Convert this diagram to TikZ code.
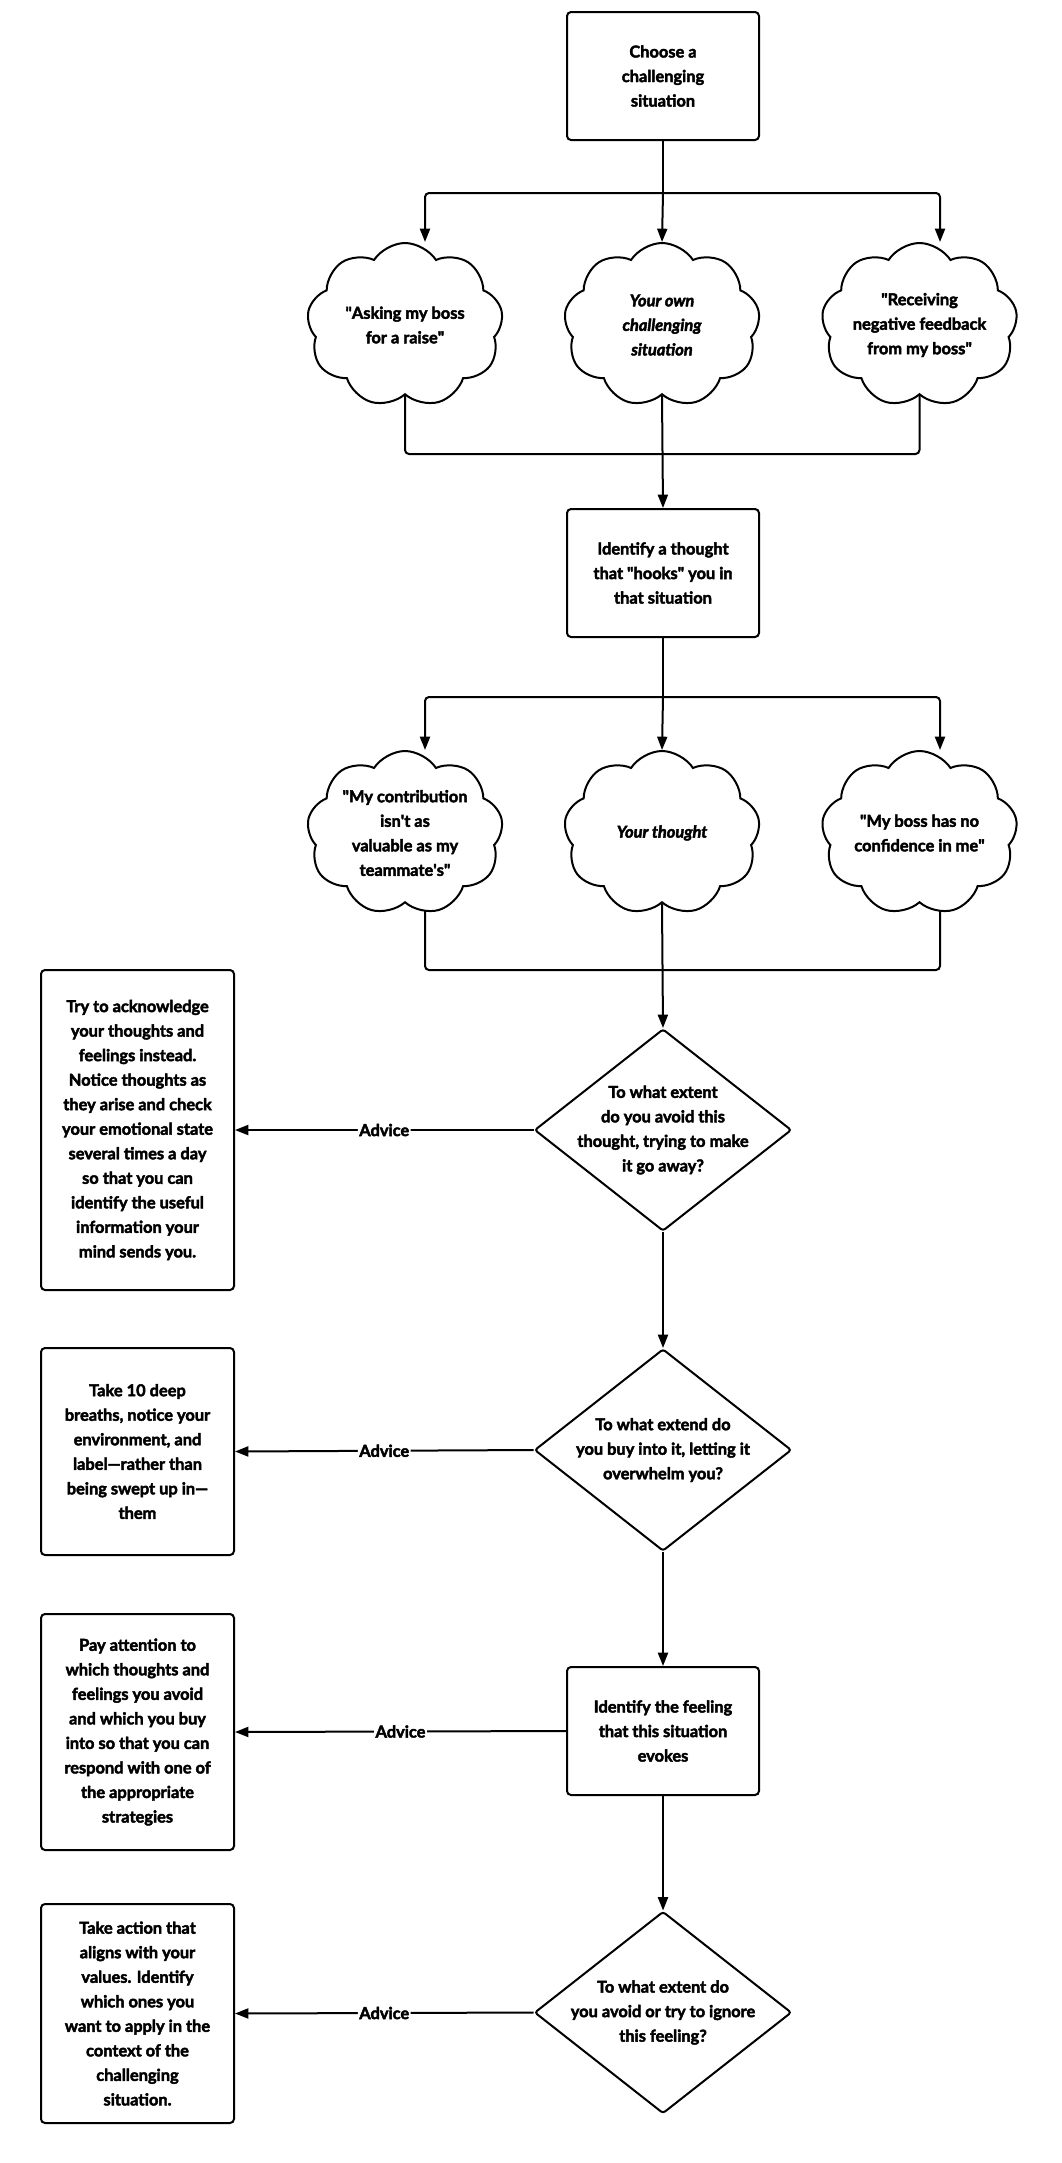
\documentclass[tikz,border=0pt]{standalone}
\usepackage{fontspec}
\setmainfont{Lato}[BoldFeatures={FakeBold=2.6},BoldItalicFeatures={FakeBold=2.6}]
\usetikzlibrary{shapes.geometric,shapes.symbols,arrows.meta}
\pgfdeclarelayer{back}
\pgfdeclarelayer{bg}
\pgfsetlayers{back,bg,main}
\newlength\pxu \setlength\pxu{0.75pt}
\newcommand\sq{\textquotesingle}
\newcommand\qq{\textquotedbl}
\tikzset{
  txt/.style={font=\bfseries\fontsize{12.3}{18.4}\selectfont, align=center, text=black},
  box/.style={txt, draw, fill=white, line width=1.5pt, rounded corners=3pt, minimum width=192\pxu, minimum height=128\pxu, inner sep=0pt},
  advice/.style={box, minimum width=193\pxu},
  puff/.style={draw, fill=white, line width=1.5pt, cloud, cloud puffs=9, cloud puff arc=115, cloud ignores aspect, minimum width=196\pxu, minimum height=164\pxu, inner sep=0pt},
  dia/.style={draw, fill=white, line width=1.5pt, diamond, minimum width=257\pxu, minimum height=202\pxu, inner sep=0pt, rounded corners=2pt},
  arr/.style={line width=1.5pt, rounded corners=3pt, -{Triangle[length=10pt,width=7.5pt]}},
  link/.style={line width=1.5pt, rounded corners=3pt},
  lab/.style={fill=white, inner sep=1pt, font=\bfseries\fontsize{12.3}{15}\selectfont}
}
\begin{document}
\begin{tikzpicture}[x=0.75pt,y=-0.75pt]
\begin{pgfonlayer}{back}
\useasboundingbox[fill=white] (0,0) rectangle (1062,2163);
\end{pgfonlayer}

% top
\node[box] (top) at (663,76) {Choose a\\challenging\\situation};
\node[puff, label={[txt]center:{\qq Asking my boss\\for a raise\qq}}] (c1) at (405,325) {};
\node[puff, label={[txt]center:{\itshape Your own\\\itshape challenging\\\itshape situation}}] (c2) at (662,325) {};
\node[puff, label={[txt]center:{\qq Receiving\\negative feedback\\from my boss\qq}}] (c3) at (919.5,325) {};
\node[box] (b2) at (663,573) {Identify a thought\\that \qq hooks\qq{} you in\\that situation};

\node[puff, label={[txt]center:{\qq My contribution\\isn\sq t as\\valuable as my\\teammate\sq s\qq}}] (c4) at (405,833) {};
\node[puff, label={[txt]center:{\itshape Your thought}}] (c5) at (662,833) {};
\node[puff, label={[txt]center:{\qq My boss has no\\confidence in me\qq}}] (c6) at (919.5,833) {};

\node[dia, label={[txt]center:{To what extent\\do you avoid this\\thought, trying to make\\it go away?}}] (d1) at (663,1130) {};
\node[dia, label={[txt]center:{To what extend do\\you buy into it, letting it\\overwhelm you?}}] (d2) at (663,1450) {};
\node[box] (b3) at (663,1731) {Identify the feeling\\that this situation\\evokes};
\node[dia, label={[txt]center:{To what extent do\\you avoid or try to ignore\\this feeling?}}] (d3) at (663,2012.5) {};

\node[advice, minimum height=320\pxu] (a1) at (137.5,1130) {Try to acknowledge\\your thoughts and\\feelings instead.\\Notice thoughts as\\they arise and check\\your emotional state\\several times a day\\so that you can\\identify the useful\\information your\\mind sends you.};
\node[advice, minimum height=207\pxu] (a2) at (137.5,1451.5) {Take 10 deep\\breaths, notice your\\environment, and\\label---rather than\\being swept up in---\\them};
\node[advice, minimum height=236\pxu] (a3) at (137.5,1732) {Pay attention to\\which thoughts and\\feelings you avoid\\and which you buy\\into so that you can\\respond with one of\\the appropriate\\strategies};
\node[advice, minimum height=219\pxu] (a4) at (137.5,2013.5) {Take action that\\aligns with your\\values. Identify\\which ones you\\want to apply in the\\context of the\\challenging\\situation.};

\begin{pgfonlayer}{bg}
% connectors row 1
\coordinate (s1) at (663,193);
\draw[link] (top.south) -- (s1);
\draw[arr] (s1) -| ([xshift=20\pxu]c1.north);
\draw[arr] (s1) -- (c2.north);
\draw[arr] (s1) -| ([xshift=20.5\pxu]c3.north);
\coordinate (m1) at (663,454);
\draw[link] (c1.center) |- (m1);
\draw[link] (c3.center) |- (m1);
\draw[arr] (c2.south) -- (b2.north);

% row 2
\coordinate (s2) at (663,697);
\draw[link] (b2.south) -- (s2);
\draw[arr] (s2) -| ([xshift=20\pxu]c4.north);
\draw[arr] (s2) -- (c5.north);
\draw[arr] (s2) -| ([xshift=20.5\pxu]c6.north);
\coordinate (m2) at (663,970);
\draw[link] ([xshift=20\pxu]c4.center) |- (m2);
\draw[link] ([xshift=20.5\pxu]c6.center) |- (m2);
\draw[arr] (c5.south) -- (d1.north);
\end{pgfonlayer}

% main chain
\draw[arr] (d1.south) -- (d2.north);
\draw[arr] (d2.south) -- (b3.north);
\draw[arr] (b3.south) -- (d3.north);

% advice
\draw[arr] (d1.west) -- node[lab]{Advice} (a1.east);
\draw[arr] (d2.west) -- node[lab]{Advice} (a2.east);
\draw[arr] (b3.west) -- node[lab]{Advice} (a3.east);
\draw[arr] (d3.west) -- node[lab]{Advice} (a4.east);
\end{tikzpicture}
\end{document}
